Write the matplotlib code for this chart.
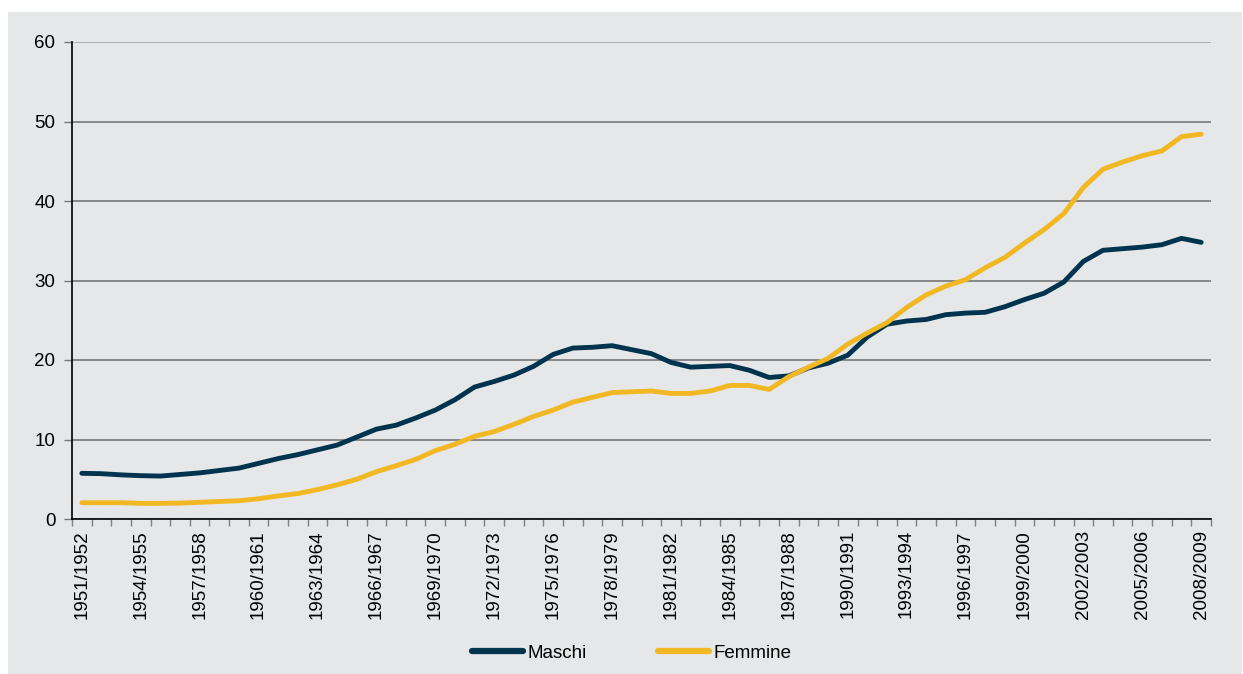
import matplotlib
matplotlib.use("Agg")
import matplotlib.pyplot as plt
from matplotlib.patches import Rectangle
from matplotlib.ticker import FixedLocator

years = [f"{y}/{y+1}" for y in range(1951, 2009)]

maschi = [5.75, 5.7, 5.55, 5.45, 5.4, 5.6, 5.8, 6.1, 6.4, 7.0,
          7.6, 8.1, 8.7, 9.3, 10.3, 11.3, 11.8, 12.7, 13.7, 15.0,
          16.6, 17.3, 18.1, 19.2, 20.7, 21.5, 21.6, 21.8, 21.3, 20.8,
          19.7, 19.1, 19.2, 19.3, 18.7, 17.8, 18.0, 19.0, 19.6, 20.6,
          22.9, 24.5, 24.9, 25.1, 25.7, 25.9, 26.0, 26.7, 27.6, 28.4,
          29.8, 32.4, 33.8, 34.0, 34.2, 34.5, 35.3, 34.8]

femmine = [2.05, 2.05, 2.05, 1.97, 1.97, 2.0, 2.1, 2.2, 2.3, 2.55,
           2.9, 3.2, 3.7, 4.3, 5.0, 5.95, 6.7, 7.5, 8.6, 9.4,
           10.4, 11.0, 11.9, 12.9, 13.7, 14.7, 15.3, 15.9, 16.0, 16.1,
           15.8, 15.8, 16.1, 16.8, 16.8, 16.3, 17.9, 19.1, 20.2, 22.0,
           23.4, 24.7, 26.6, 28.2, 29.3, 30.1, 31.6, 32.9, 34.7, 36.4,
           38.4, 41.7, 44.0, 44.9, 45.7, 46.3, 48.1, 48.4]

series_names = ["Maschi", "Femmine"]
colors = ["#00334e", "#f2b823"]
bg = "#e6e7e8"

plt.rcParams['font.family'] = ['Liberation Sans', 'DejaVu Sans']
FS = 13.5

W, H = 1243, 674
fig = plt.figure(figsize=(W / 100, H / 100), dpi=100, facecolor="white")
fig.patches.append(Rectangle((8 / W, 0), (W - 9) / W, (H - 12) / H,
                             transform=fig.transFigure, facecolor=bg,
                             edgecolor="none", zorder=-10))

ax = fig.add_axes([72 / W, 1 - 519 / H, (1211 - 72) / W, (519 - 42) / H])
ax.set_facecolor(bg)

x = list(range(len(years)))
ax.plot(x, maschi, color=colors[0], lw=3.5, solid_capstyle="round",
        solid_joinstyle="round", label=series_names[0], zorder=3)
ax.plot(x, femmine, color=colors[1], lw=3.5, solid_capstyle="round",
        solid_joinstyle="round", label=series_names[1], zorder=3)

ax.set_xlim(-0.5, len(years) - 0.5)
ax.set_ylim(0, 60)
ax.set_yticks(range(0, 61, 10))
ax.set_yticklabels([str(v) for v in range(0, 61, 10)], fontsize=FS)

ax.set_xticks(x[::3])
ax.set_xticklabels(years[::3], rotation=90, fontsize=FS)
ax.xaxis.set_minor_locator(FixedLocator([i - 0.5 for i in range(len(years) + 1)]))
ax.tick_params(axis="x", which="major", length=0, pad=8)
ax.tick_params(axis="x", which="minor", length=5, color="#808080", width=1)
ax.tick_params(axis="y", length=6, color="#777777", width=1, pad=6)

ax.grid(axis="y", color="#6e6e6e", lw=1.1, zorder=1)
ax.set_axisbelow(True)
gl = ax.get_ygridlines()
gl[-1].set_color("#a0a0a0")

for s in ["top", "right"]:
    ax.spines[s].set_visible(False)
ax.spines["left"].set_color("black")
ax.spines["bottom"].set_color("black")
ax.spines["left"].set_linewidth(1.2)
ax.spines["bottom"].set_linewidth(1.2)

leg = fig.legend(loc="center", bbox_to_anchor=(632 / W, 1 - 653 / H), ncol=2,
                 frameon=False, fontsize=FS, handlelength=2.7,
                 handletextpad=0.25, columnspacing=3.8)
for h in leg.get_lines():
    h.set_linewidth(4.5)

fig.savefig("out.png", dpi=100, facecolor="white")
